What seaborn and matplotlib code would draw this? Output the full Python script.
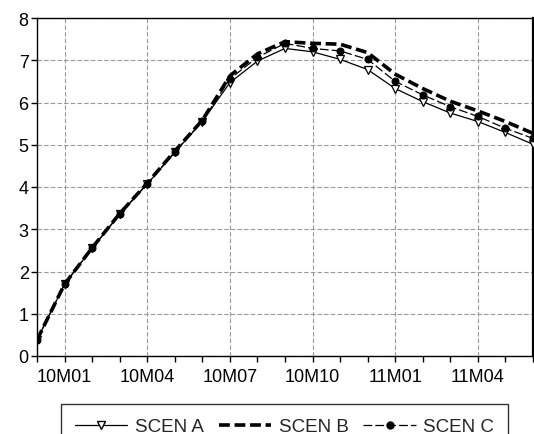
import matplotlib
matplotlib.use("Agg")
import matplotlib.pyplot as plt
import seaborn as sns
import pandas as pd
import numpy as np
from matplotlib.lines import Line2D

months = ["09M12", "10M01", "10M02", "10M03", "10M04", "10M05", "10M06", "10M07", "10M08",
          "10M09", "10M10", "10M11", "10M12", "11M01", "11M02", "11M03", "11M04", "11M05", "11M06"]
scen_a = [0.38, 1.70, 2.55, 3.35, 4.07, 4.82, 5.55, 6.47, 6.98, 7.28, 7.20, 7.02, 6.78, 6.33, 6.02, 5.75, 5.55, 5.29, 5.01]
scen_b = [0.38, 1.70, 2.56, 3.37, 4.09, 4.85, 5.58, 6.63, 7.15, 7.44, 7.40, 7.38, 7.18, 6.67, 6.33, 6.03, 5.80, 5.55, 5.27]
scen_c = [0.38, 1.70, 2.55, 3.36, 4.08, 4.83, 5.56, 6.56, 7.07, 7.40, 7.28, 7.22, 7.02, 6.50, 6.18, 5.90, 5.67, 5.39, 5.15]
tick_labels = ["10M01", "10M04", "10M07", "10M10", "11M01", "11M04"]

sns.set_theme(style="white")
plt.rcParams["font.family"] = ["Liberation Sans", "DejaVu Sans"]

fig = plt.figure(figsize=(5.34, 4.35), dpi=100)
ax = fig.add_axes([37/534, 1-357/435, 496/534, 338/435])

idx = np.arange(len(months))
df = pd.DataFrame({"idx": idx, "A": scen_a, "B": scen_b, "C": scen_c})

sns.lineplot(data=df, x="idx", y="A", ax=ax, color="black", lw=0.9, marker="v",
             markersize=6, markerfacecolor="white", markeredgecolor="black", markeredgewidth=0.9, zorder=3)
sns.lineplot(data=df, x="idx", y="B", ax=ax, color="black", lw=2.6, dashes=(3, 1.3), zorder=4)
sns.lineplot(data=df, x="idx", y="C", ax=ax, color="black", lw=0.9, dashes=(7, 2.5), marker="o",
             markersize=5, markerfacecolor="black", markeredgecolor="black", zorder=5)

ax.set_xlim(0, len(months) - 1)
ax.set_ylim(0, 8)
ax.set_xlabel("")
ax.set_ylabel("")

major = [months.index(m) for m in tick_labels]
ax.set_xticks(major)
ax.set_xticklabels(tick_labels)
ax.set_xticks(idx, minor=True)
ax.set_yticks(range(0, 9))
ax.tick_params(axis="both", which="major", direction="out", length=4, width=1, color="black",
               labelsize=13, labelcolor="black", bottom=True, left=True, pad=2)
ax.tick_params(axis="x", which="major", pad=5)
ax.tick_params(axis="x", which="minor", direction="out", length=4, width=1, color="black", bottom=True)
ax.grid(True, which="major", color="#999999", linestyle=(0, (4, 2)), lw=0.8)
for s in ax.spines.values():
    s.set_visible(True)
    s.set_color("black")
    s.set_linewidth(1.0)
ax.spines["right"].set_linewidth(1.6)

handles = [
    Line2D([], [], color="black", lw=0.9, marker="v", markersize=6, markerfacecolor="white", markeredgecolor="black"),
    Line2D([], [], color="black", lw=2.6, dashes=(3, 1.3)),
    Line2D([], [], color="black", lw=0.9, dashes=(7, 2.5), marker="o", markersize=5),
]
leg = fig.legend(handles, ["SCEN A", "SCEN B", "SCEN C"], loc="upper center",
                 bbox_to_anchor=(284.5/534, 1-405/435), ncol=3, fontsize=13.5, frameon=True,
                 fancybox=False, edgecolor="black", handlelength=2.8, columnspacing=0.8,
                 handletextpad=0.4, borderpad=0.75, borderaxespad=0)
leg.get_frame().set_linewidth(1.0)

fig.savefig("out.png", dpi=100)
